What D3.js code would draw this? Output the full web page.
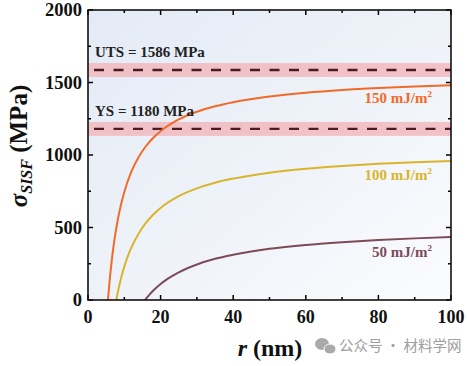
<!DOCTYPE html>
<html><head><meta charset="utf-8">
<script src="https://cdn.jsdelivr.net/npm/d3@7"></script>
<style>body{margin:0;background:#fff}svg{display:block}</style>
</head><body><svg id="c" width="467" height="366"></svg>
<script>
// ---- data ----
const r150 = [5.5, 6, 6.5, 7, 8, 9, 10, 12, 14, 16, 18, 20, 25, 30, 35, 40, 50, 60, 70, 80, 90, 100];
const s150 = [0, 143, 263, 364, 526, 648, 745, 888, 988, 1062, 1119, 1164, 1245, 1298, 1336, 1364, 1403, 1429, 1448, 1462, 1473, 1481];
const r100 = [7.8, 8, 8.5, 9, 10, 11, 12, 14, 16, 18, 20, 25, 30, 35, 40, 50, 60, 70, 80, 90, 100];
const s100 = [0, 27, 87, 140, 230, 304, 365, 461, 534, 590, 635, 716, 770, 809, 837, 878, 905, 924, 939, 950, 959];
const r50 = [15.7, 16, 17, 18, 20, 22, 25, 30, 35, 40, 50, 60, 70, 80, 90, 100];
const s50 = [0, 9, 39, 65, 110, 147, 191, 245, 284, 312, 353, 380, 399, 414, 425, 434];
const seriesNames = ["150 mJ/m", "100 mJ/m", "50 mJ/m"];
const refValues = [1586, 1180];
const refBand = 48;
const refLabels = ["UTS = 1586 MPa", "YS = 1180 MPa"];
const xTicks = [0, 20, 40, 60, 80, 100];
const yTicks = [0, 500, 1000, 1500, 2000];

const svg = d3.select("#c");
const L = 88, R = 451, T = 10, B = 300;
const x = d3.scaleLinear().domain([0, 100]).range([L, R]);
const y = d3.scaleLinear().domain([0, 2000]).range([B, T]);
const serif = "'Liberation Serif','Times New Roman',serif";

// background gradient
const defs = svg.append("defs");
const g = defs.append("linearGradient").attr("id", "bg").attr("x1", 0).attr("y1", 0).attr("x2", 1).attr("y2", 1);
g.append("stop").attr("offset", "0%").attr("stop-color", "#e4ebf6");
g.append("stop").attr("offset", "55%").attr("stop-color", "#eff3f9");
g.append("stop").attr("offset", "100%").attr("stop-color", "#fbfcfe");
defs.append("clipPath").attr("id", "clip").append("rect").attr("x", L).attr("y", T).attr("width", R - L).attr("height", B - T);
svg.append("rect").attr("x", L).attr("y", T).attr("width", R - L).attr("height", B - T).attr("fill", "url(#bg)");

// reference bands + dashed lines
const plot = svg.append("g").attr("clip-path", "url(#clip)");
refValues.forEach(v => {
  plot.append("rect").attr("x", L).attr("width", R - L)
    .attr("y", y(v + refBand)).attr("height", y(v - refBand) - y(v + refBand))
    .attr("fill", "#f2b9c0").attr("opacity", 0.85);
  plot.append("line").attr("x1", L + 6).attr("x2", R).attr("y1", y(v)).attr("y2", y(v))
    .attr("stroke", "#4a1c22").attr("stroke-width", 2.4).attr("stroke-dasharray", "10,9.5");
});

// curves
const colors = ["#f26a28", "#d8b52a", "#7d4a58"];
const rs = [r150, r100, r50], ss = [s150, s100, s50];
const line = d3.line().x(d => x(d[0])).y(d => y(d[1])).curve(d3.curveMonotoneX);
rs.forEach((rr, i) => {
  plot.append("path").datum(rr.map((r, j) => [r, ss[i][j]]))
    .attr("d", line).attr("fill", "none").attr("stroke", colors[i]).attr("stroke-width", 2);
});

// axes (ticks inward)
const minorX = d3.range(0, 101, 10), minorY = d3.range(0, 2001, 250);
const ax = svg.append("g").attr("stroke", "#000");
minorX.forEach(v => {
  const len = v % 20 === 0 ? 5 : 3;
  ax.append("line").attr("x1", x(v)).attr("x2", x(v)).attr("y1", B).attr("y2", B - len).attr("stroke-width", 1.5);
  ax.append("line").attr("x1", x(v)).attr("x2", x(v)).attr("y1", T).attr("y2", T + len).attr("stroke-width", 1.5);
});
minorY.forEach(v => {
  const len = v % 500 === 0 ? 5 : 3;
  ax.append("line").attr("y1", y(v)).attr("y2", y(v)).attr("x1", L).attr("x2", L + len).attr("stroke-width", 1.5);
  ax.append("line").attr("y1", y(v)).attr("y2", y(v)).attr("x1", R).attr("x2", R - len).attr("stroke-width", 1.5);
});
svg.append("rect").attr("x", L).attr("y", T).attr("width", R - L).attr("height", B - T)
  .attr("fill", "none").attr("stroke", "#111").attr("stroke-width", 1.6);

// tick labels
svg.append("g").selectAll("text").data(xTicks).join("text")
  .attr("x", d => x(d)).attr("y", 323).attr("text-anchor", "middle")
  .attr("font-family", serif).attr("font-weight", "bold").attr("font-size", 18).attr("fill", "#111")
  .text(d => d);
svg.append("g").selectAll("text").data(yTicks).join("text")
  .attr("x", 82).attr("y", d => y(d) + 6).attr("text-anchor", "end")
  .attr("font-family", serif).attr("font-weight", "bold").attr("font-size", 18.5).attr("fill", "#111")
  .text(d => d);

// axis titles
const yt = svg.append("text").attr("transform", "translate(27,146) rotate(-90)").attr("text-anchor", "middle")
  .attr("font-family", serif).attr("font-weight", "bold").attr("font-size", 25).attr("fill", "#111");
yt.append("tspan").attr("font-style", "italic").text("σ");
yt.append("tspan").attr("font-style", "italic").attr("font-size", 16).attr("dy", 5).text("SISF");
yt.append("tspan").attr("dy", -5).text(" (MPa)");
const xt = svg.append("text").attr("x", 270).attr("y", 356).attr("text-anchor", "middle")
  .attr("font-family", serif).attr("font-weight", "bold").attr("font-size", 24).attr("fill", "#111");
xt.append("tspan").attr("font-style", "italic").text("r");
xt.append("tspan").text(" (nm)");

// reference labels
refLabels.forEach((t, i) => {
  svg.append("text").attr("x", 95).attr("y", i === 0 ? 57 : 116)
    .attr("font-family", serif).attr("font-weight", "bold").attr("font-size", 15).attr("fill", "#222").text(t);
});

// series labels
const labY = [103, 180, 257];
seriesNames.forEach((n, i) => {
  const t = svg.append("text").attr("x", 432).attr("y", labY[i]).attr("text-anchor", "end")
    .attr("font-family", serif).attr("font-weight", "bold").attr("font-size", 15).attr("fill", colors[i]);
  t.append("tspan").text(n);
  t.append("tspan").attr("font-size", 9).attr("dy", -6).text("2");
});

// watermark
const wm = svg.append("g").attr("fill", "#a9a9a9");
wm.append("ellipse").attr("cx", 322).attr("cy", 344).attr("rx", 7).attr("ry", 6);
wm.append("ellipse").attr("cx", 330).attr("cy", 349).attr("rx", 6).attr("ry", 5).attr("stroke", "#fff").attr("stroke-width", 1);
svg.append("text").attr("x", 339).attr("y", 351).attr("font-family", "'Noto Sans CJK SC',sans-serif")
  .attr("font-size", 14.5).attr("fill", "#9d9d9d").text("公众号 · 材料学网");
</script></body></html>
